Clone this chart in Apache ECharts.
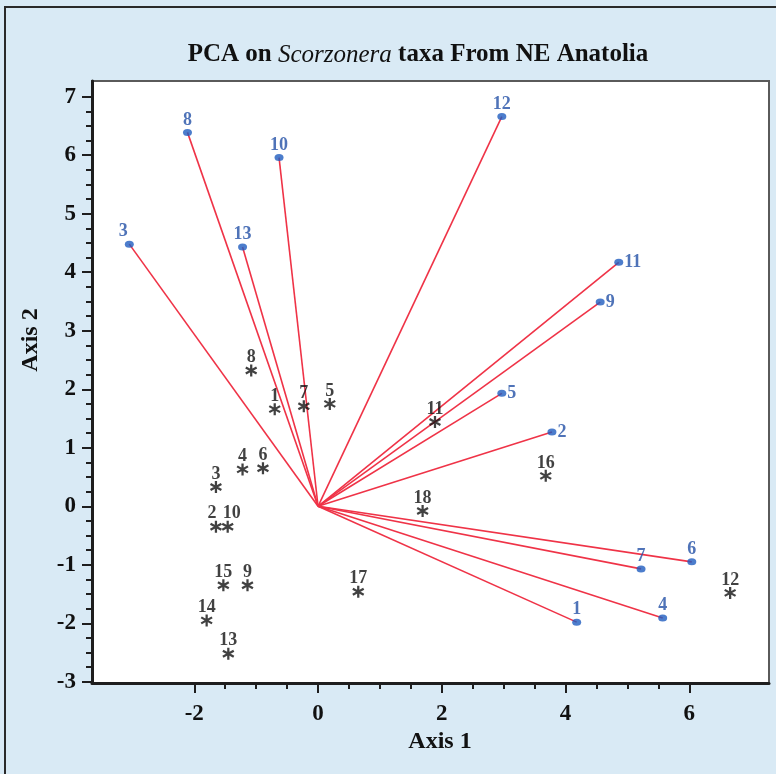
<!DOCTYPE html>
<html>
<head>
<meta charset="utf-8">
<style>
  html, body { margin: 0; padding: 0; background: #d9eaf5; }
  #chart { width: 776px; height: 774px; }
</style>
<script src="https://cdn.jsdelivr.net/npm/echarts@6/dist/echarts.min.js"></script>
</head>
<body>
<div id="chart"></div>
<script>
// variable loadings (blue points, red vectors from origin)
const loadingNames = ['1', '2', '3', '4', '5', '6', '7', '8', '9', '10', '11', '12', '13']
const loadingX = [4.18, 3.78, -3.05, 5.57, 2.97, 6.04, 5.22, -2.11, 4.56, -0.63, 4.86, 2.97, -1.22]
const loadingY = [-1.98, 1.27, 4.48, -1.91, 1.93, -0.95, -1.07, 6.39, 3.49, 5.96, 4.17, 6.66, 4.43]

// taxa scores (black asterisks)
const scoreNames = ['1', '2', '3', '4', '5', '6', '7', '8', '9', '10', '11', '12', '13', '14', '15', '16', '17', '18']
const scoreX = [-0.70, -1.65, -1.65, -1.22, 0.19, -0.89, -0.23, -1.08, -1.14, -1.46, 1.89, 6.66, -1.45, -1.80, -1.53, 3.68, 0.65, 1.69]
const scoreY = [1.66, -0.35, 0.33, 0.63, 1.75, 0.65, 1.71, 2.32, -1.35, -0.35, 1.44, -1.48, -2.52, -1.95, -1.35, 0.52, -1.46, -0.08]

// tick labels
const xTicks = [-2, 0, 2, 4, 6]
const yTicks = [-3, -2, -1, 0, 1, 2, 3, 4, 5, 6, 7]

const xMinor = []
for (let v = -2; v <= 6; v += 0.5) xMinor.push(v)
const yMinor = []
for (let v = -3; v <= 7; v += 0.25) yMinor.push(v)

const serif = 'Liberation Serif'
const axisColor = '#1e1e1e'
const blue = '#2350a6'
const red = '#ef3347'
const rightLabelled = ['2', '5', '9', '11']
// small nudges so crowded labels stay apart
const labelNudge = { '2': [-4, 0], '10': [4, 0] }

const asterisk = 'path://M-0.18,-1L0.18,-1L0.18,1L-0.18,1Z' +
  'M0.776,-0.656L0.956,-0.344L-0.776,0.656L-0.956,0.344Z' +
  'M0.956,0.344L0.776,0.656L-0.956,-0.344L-0.776,-0.656Z'

const xRange = { min: -3.653, max: 7.288 }
const yRange = { min: -3.02, max: 7.268 }

function mainAxis(ticks, range, isX) {
  return {
    type: 'value',
    min: range.min,
    max: range.max,
    position: isX ? 'bottom' : 'left',
    axisLine: { show: true, onZero: false, lineStyle: { color: axisColor, width: 3 } },
    axisTick: { show: true, customValues: ticks, length: 10, lineStyle: { color: axisColor, width: 2 } },
    axisLabel: {
      customValues: ticks,
      margin: isX ? 20 : 16,
      color: '#111',
      fontFamily: serif,
      fontWeight: 'bold',
      fontSize: 23
    },
    splitLine: { show: false }
  }
}

function minorAxis(ticks, range, isX) {
  return {
    type: 'value',
    min: range.min,
    max: range.max,
    position: isX ? 'bottom' : 'left',
    axisLine: { show: false, onZero: false },
    axisTick: { show: true, customValues: ticks, length: 6, lineStyle: { color: axisColor, width: 2 } },
    axisLabel: { show: false },
    splitLine: { show: false }
  }
}

const chart = echarts.init(document.getElementById('chart'))
chart.setOption({
  backgroundColor: '#d9eaf5',
  animation: false,
  grid: {
    left: 92,
    top: 81,
    right: 7,
    bottom: 91,
    show: true,
    backgroundColor: '#ffffff',
    borderColor: '#5a5a5a',
    borderWidth: 2
  },
  xAxis: [mainAxis(xTicks, xRange, true), minorAxis(xMinor, xRange, true)],
  yAxis: [mainAxis(yTicks, yRange, false), minorAxis(yMinor, yRange, false)],
  graphic: [
    {
      type: 'rect',
      shape: { x: 5, y: 7, width: 900, height: 900 },
      style: { fill: 'none', stroke: '#2a2a2a', lineWidth: 2 },
      silent: true,
      z: -1
    },
    {
      type: 'text',
      x: 418,
      y: 55,
      style: {
        text: 'PCA on {i|Scorzonera} taxa From NE Anatolia',
        fontFamily: serif,
        fontWeight: 'bold',
        fontSize: 25,
        fill: '#111',
        align: 'center',
        verticalAlign: 'middle',
        rich: {
          i: { fontFamily: serif, fontStyle: 'italic', fontWeight: 'normal', fontSize: 25, fill: '#111' }
        }
      }
    },
    {
      type: 'text',
      x: 440,
      y: 742,
      style: {
        text: 'Axis 1',
        fontFamily: serif,
        fontWeight: 'bold',
        fontSize: 24,
        fill: '#111',
        align: 'center',
        verticalAlign: 'middle'
      }
    },
    {
      type: 'text',
      x: 31,
      y: 340,
      rotation: Math.PI / 2,
      style: {
        text: 'Axis 2',
        fontFamily: serif,
        fontWeight: 'bold',
        fontSize: 24,
        fill: '#111',
        align: 'center',
        verticalAlign: 'middle'
      }
    }
  ],
  series: [
    {
      type: 'lines',
      coordinateSystem: 'cartesian2d',
      silent: true,
      lineStyle: { color: red, width: 1.6, opacity: 1 },
      data: loadingX.map((x, i) => ({ coords: [[0, 0], [x, loadingY[i]]] }))
    },
    {
      type: 'scatter',
      symbol: 'circle',
      symbolSize: [9, 7],
      itemStyle: { color: '#1f5cbf' },
      label: {
        show: true,
        formatter: p => p.name,
        color: blue,
        fontFamily: serif,
        fontWeight: 'bold',
        fontSize: 18
      },
      data: loadingX.map((x, i) => ({
        name: loadingNames[i],
        value: [x, loadingY[i]],
        label: rightLabelled.includes(loadingNames[i])
          ? { position: 'right', distance: 1 }
          : { position: 'top', distance: 0, offset: loadingNames[i] === '3' ? [-6, 0] : [0, 0] }
      })),
      z: 3
    },
    {
      type: 'scatter',
      symbol: asterisk,
      symbolSize: 12,
      itemStyle: { color: '#111' },
      label: {
        show: true,
        position: 'top',
        distance: -2,
        formatter: p => p.name,
        color: '#111',
        fontFamily: serif,
        fontWeight: 'bold',
        fontSize: 18
      },
      data: scoreX.map((x, i) => ({
        name: scoreNames[i],
        value: [x, scoreY[i]],
        label: { offset: labelNudge[scoreNames[i]] || [0, 0] }
      })),
      z: 4
    }
  ]
})
</script>
</body>
</html>
